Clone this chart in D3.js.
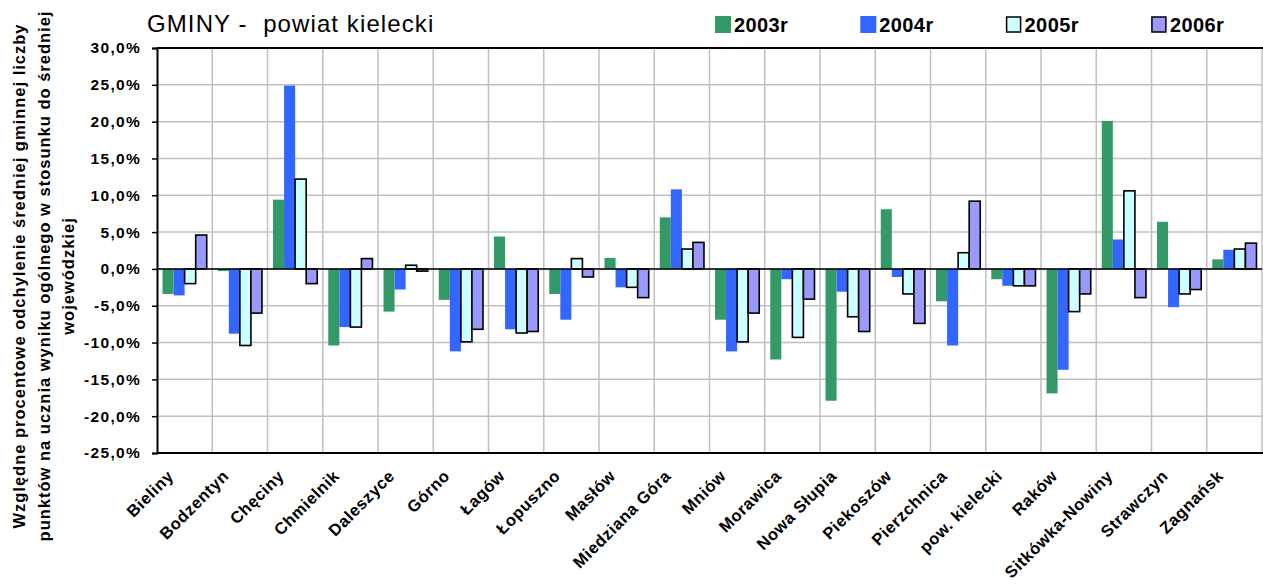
<!DOCTYPE html>
<html>
<head>
    <meta charset="UTF-8">
    <title>GMINY - powiat kielecki</title>
    <style>
        body { margin: 0; background: #fff; }
        svg { display: block; font-family: "Liberation Sans", Arial, sans-serif; }
    </style>
</head>
<body>
    <div id="chart"></div>

    <script src="https://cdn.jsdelivr.net/npm/d3@7"></script>
    <script>
        // dane
        var gminy = ["Bieliny", "Bodzentyn", "Chęciny", "Chmielnik", "Daleszyce", "Górno", "Łagów",
            "Łopuszno", "Masłów", "Miedziana Góra", "Mniów", "Morawica", "Nowa Słupia", "Piekoszów",
            "Pierzchnica", "pow. kielecki", "Raków", "Sitkówka-Nowiny", "Strawczyn", "Zagnańsk"];
        var lata = ["2003r", "2004r", "2005r", "2006r"];
        var v2003 = [-3.4, -0.3, 9.4, -10.4, -5.8, -4.2, 4.4, -3.4, 1.5, 7.0, -6.9, -12.3, -17.9, 8.1, -4.4, -1.4, -16.9, 20.1, 6.4, 1.3];
        var v2004 = [-3.6, -8.8, 24.9, -7.9, -2.8, -11.2, -8.2, -6.9, -2.5, 10.8, -11.2, -1.4, -3.1, -1.1, -10.4, -2.3, -13.7, 4.0, -5.2, 2.6];
        var v2005 = [-2.0, -10.4, 12.2, -7.9, 0.5, -9.9, -8.7, 1.4, -2.5, 2.7, -9.9, -9.3, -6.5, -3.4, 2.2, -2.3, -5.8, 10.6, -3.4, 2.7];
        var v2006 = [4.6, -6.0, -2.0, 1.4, -0.3, -8.2, -8.5, -1.1, -3.9, 3.6, -6.0, -4.1, -8.5, -7.4, 9.2, -2.3, -3.4, -3.9, -2.8, 3.5];
        var yTicks = [30, 25, 20, 15, 10, 5, 0, -5, -10, -15, -20, -25];

        var seriesValues = [v2003, v2004, v2005, v2006];
        var fills = ["#339966", "#3366ff", "#ccffff", "#9999ff"];
        var outlined = [false, false, true, true];

        var width = 1263;
        var height = 584;
        var plot = { left: 157, right: 1262, top: 48, bottom: 453 };

        var svg = d3.select("#chart")
            .append("svg")
            .attr("width", width)
            .attr("height", height);

        var x0 = d3.scaleBand()
            .domain(gminy)
            .range([plot.left, plot.right]);

        var x1 = d3.scaleBand()
            .domain(lata)
            .range([x0.bandwidth() * 0.1, x0.bandwidth() * 0.9]);

        var y = d3.scaleLinear()
            .domain([-25, 30])
            .range([plot.bottom, plot.top]);

        var fmt = function (d) { return d.toFixed(1).replace(".", ",") + "%"; };

        // siatka pozioma
        svg.append("g")
            .selectAll("line")
            .data(yTicks)
            .enter()
            .append("line")
            .attr("x1", plot.left)
            .attr("x2", plot.right)
            .attr("y1", function (d) { return y(d); })
            .attr("y2", function (d) { return y(d); })
            .style("stroke", "#c0c0c0")
            .style("stroke-width", 1.5);

        // siatka pionowa (granice kategorii)
        svg.append("g")
            .selectAll("line")
            .data(gminy.slice(1).concat(["end"]))
            .enter()
            .append("line")
            .attr("x1", function (d, i) { return plot.left + (i + 1) * x0.step(); })
            .attr("x2", function (d, i) { return plot.left + (i + 1) * x0.step(); })
            .attr("y1", plot.top)
            .attr("y2", plot.bottom)
            .style("stroke", "#c0c0c0")
            .style("stroke-width", 1.5);

        // słupki
        var groups = svg.append("g")
            .selectAll("g")
            .data(seriesValues)
            .enter()
            .append("g");

        groups.selectAll("rect")
            .data(function (vals, si) {
                return vals.map(function (v, i) { return { gmina: gminy[i], rok: lata[si], v: v, si: si }; });
            })
            .enter()
            .append("rect")
            .attr("x", function (d) { return x0(d.gmina) + x1(d.rok); })
            .attr("width", x1.bandwidth())
            .attr("y", function (d) { return y(Math.max(0, d.v)); })
            .attr("height", function (d) { return Math.abs(y(d.v) - y(0)); })
            .style("fill", function (d) { return fills[d.si]; })
            .style("stroke", function (d) { return outlined[d.si] ? "#000" : "none"; })
            .style("stroke-width", 1.6);

        // linia zera
        svg.append("line")
            .attr("x1", plot.left)
            .attr("x2", plot.right)
            .attr("y1", y(0))
            .attr("y2", y(0))
            .style("stroke", "#000")
            .style("stroke-width", 1.5);

        // ramka wykresu
        svg.append("line")
            .attr("x1", plot.left).attr("x2", width)
            .attr("y1", plot.top).attr("y2", plot.top)
            .style("stroke", "#000").style("stroke-width", 2);
        svg.append("line")
            .attr("x1", plot.left).attr("x2", width)
            .attr("y1", plot.bottom).attr("y2", plot.bottom)
            .style("stroke", "#000").style("stroke-width", 2);

        // oś Y
        var yAxis = d3.axisLeft(y)
            .tickValues(yTicks)
            .tickFormat(fmt)
            .tickSize(5)
            .tickPadding(11);

        var gy = svg.append("g")
            .attr("transform", "translate(" + plot.left + ",0)")
            .call(yAxis);
        gy.select(".domain").style("stroke", "#000").style("stroke-width", 2);
        gy.selectAll(".tick line").style("stroke", "#000").style("stroke-width", 1.5);
        gy.selectAll(".tick text")
            .style("font-size", "15.5px")
            .style("font-weight", "bold")
            .style("letter-spacing", "1.3px")
            .style("fill", "#000")
            .style("font-family", "'Liberation Sans', Arial, sans-serif");

        // etykiety osi X
        svg.append("g")
            .selectAll("text")
            .data(gminy)
            .enter()
            .append("text")
            .attr("transform", function (d) {
                return "translate(" + (x0(d) + x0.bandwidth() / 2 - 10) + ",477) rotate(-45)";
            })
            .attr("text-anchor", "end")
            .style("font-size", "16.5px")
            .style("font-weight", "bold")
            .style("letter-spacing", "0.6px")
            .text(function (d) { return d; });

        // tytuł osi Y
        var yTitle = ["Względne procentowe odchylenie średniej gminnej liczby",
            "punktów na ucznia wyniku ogólnego w stosunku do średniej",
            "wojewódzkiej"];
        svg.append("g")
            .selectAll("text")
            .data(yTitle)
            .enter()
            .append("text")
            .attr("transform", function (d, i) { return "translate(" + (25 + i * 24.5) + ",276) rotate(-90)"; })
            .attr("text-anchor", "middle")
            .style("font-size", "16.5px")
            .style("font-weight", "bold")
            .style("letter-spacing", "1px")
            .text(function (d) { return d; });

        // tytuł
        svg.append("text")
            .attr("x", 147)
            .attr("y", 32)
            .style("font-size", "24px")
            .style("letter-spacing", "1.1px")
            .style("white-space", "pre")
            .text("GMINY -  powiat kielecki");

        // legenda
        var legend = svg.append("g")
            .selectAll("g")
            .data(lata)
            .enter()
            .append("g")
            .attr("transform", function (d, i) { return "translate(" + (715 + i * 145.3) + ",16)"; });

        legend.append("rect")
            .attr("width", function (d, i) { return outlined[i] ? 14 : 16; })
            .attr("height", function (d, i) { return outlined[i] ? 15 : 17; })
            .attr("x", function (d, i) { return outlined[i] ? 1 : 0; })
            .attr("y", function (d, i) { return outlined[i] ? 1 : 0; })
            .style("fill", function (d, i) { return fills[i]; })
            .style("stroke", function (d, i) { return outlined[i] ? "#000" : "none"; })
            .style("stroke-width", 1.5);

        legend.append("text")
            .attr("x", 19)
            .attr("y", 16)
            .style("font-size", "20px")
            .style("font-weight", "bold")
            .style("letter-spacing", "0.4px")
            .text(function (d) { return d; });
    </script>
</body>
</html>
